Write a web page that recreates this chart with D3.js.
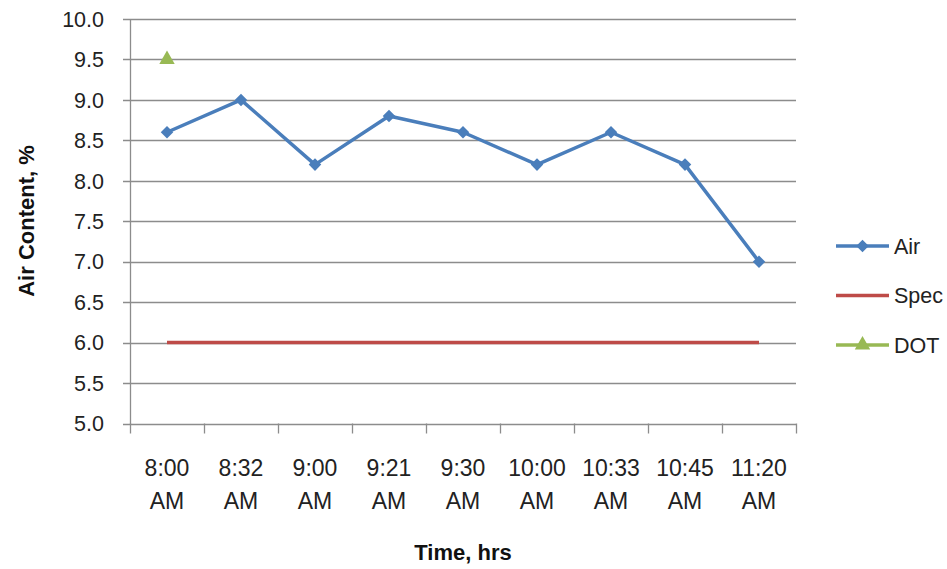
<!DOCTYPE html>
<html>
<head>
<meta charset="utf-8">
<script src="https://cdn.jsdelivr.net/npm/d3@7"></script>
<style>
  html, body { margin: 0; padding: 0; background: #fff; }
  svg { display: block; font-family: "Liberation Sans", Arial, sans-serif; }
</style>
</head>
<body>
<svg id="chart" width="947" height="569"></svg>
<script>
// Sample times (two-line labels)
const times = ["8:00 AM", "8:32 AM", "9:00 AM", "9:21 AM", "9:30 AM", "10:00 AM", "10:33 AM", "10:45 AM", "11:20 AM"];
// Measured air content, %
const airValues = [8.6, 9.0, 8.2, 8.8, 8.6, 8.2, 8.6, 8.2, 7.0];
// Specification minimum, %
const specValues = [6.0, 6.0, 6.0, 6.0, 6.0, 6.0, 6.0, 6.0, 6.0];
// DOT test (first sample only)
const dotValues = [9.5, null, null, null, null, null, null, null, null];
const yTicks = [5.0, 5.5, 6.0, 6.5, 7.0, 7.5, 8.0, 8.5, 9.0, 9.5, 10.0];

const series = [
  { name: "Air", values: airValues, color: "#4A7EBB", marker: "diamond" },
  { name: "Spec", values: specValues, color: "#BE4B48", marker: null },
  { name: "DOT", values: dotValues, color: "#98B954", marker: "triangle" }
];

const svg = d3.select("#chart");
const plot = { left: 130, right: 796, top: 19, bottom: 423.5 };

const x = d3.scaleBand().domain(times).range([plot.left, plot.right]).paddingInner(0).paddingOuter(0);
const y = d3.scaleLinear().domain([5, 10]).range([plot.bottom, plot.top]);

// Horizontal gridlines
svg.append("g")
  .selectAll("line")
  .data(yTicks)
  .join("line")
  .attr("x1", plot.left - 7)
  .attr("x2", plot.right)
  .attr("y1", d => Math.round(y(d)) + 0.5)
  .attr("y2", d => Math.round(y(d)) + 0.5)
  .attr("stroke", "#8C8C8C")
  .attr("stroke-width", 1.3);

// Y axis labels
svg.append("g")
  .selectAll("text")
  .data(yTicks)
  .join("text")
  .attr("x", 104)
  .attr("y", d => y(d))
  .attr("dy", "0.36em")
  .attr("text-anchor", "end")
  .attr("font-size", 21.5)
  .attr("fill", "#222")
  .text(d => d.toFixed(1));

// Vertical axis line
svg.append("line")
  .attr("x1", plot.left + 0.5).attr("x2", plot.left + 0.5)
  .attr("y1", plot.top).attr("y2", plot.bottom + 0.5)
  .attr("stroke", "#8C8C8C").attr("stroke-width", 1.3);

// X axis tick marks at category boundaries
const boundaries = times.map(t => x(t)).concat([plot.right]);
svg.append("g")
  .selectAll("line")
  .data(boundaries)
  .join("line")
  .attr("x1", d => Math.round(d) + 0.5)
  .attr("x2", d => Math.round(d) + 0.5)
  .attr("y1", plot.bottom)
  .attr("y2", plot.bottom + 10)
  .attr("stroke", "#8C8C8C")
  .attr("stroke-width", 1.3);

// X axis labels (time / AM on two lines)
const xl = svg.append("g")
  .selectAll("text")
  .data(times)
  .join("text")
  .attr("text-anchor", "middle")
  .attr("font-size", 23)
  .attr("fill", "#222");
xl.append("tspan")
  .attr("x", d => x(d) + x.bandwidth() / 2)
  .attr("y", 476)
  .text(d => d.split(" ")[0]);
xl.append("tspan")
  .attr("x", d => x(d) + x.bandwidth() / 2)
  .attr("y", 509)
  .text(d => d.split(" ")[1]);

const cx = (i) => x(times[i]) + x.bandwidth() / 2;
const line = d3.line()
  .defined(d => d.v != null)
  .x(d => cx(d.i))
  .y(d => y(d.v));

const diamond = d3.symbol().type(d3.symbolDiamond2).size(100);
const triangle = d3.symbol().type(d3.symbolTriangle2).size(170);

series.forEach(s => {
  const pts = s.values.map((v, i) => ({ v, i }));
  svg.append("path")
    .datum(pts)
    .attr("d", line)
    .attr("fill", "none")
    .attr("stroke", s.color)
    .attr("stroke-width", 3.5)
    .attr("stroke-linejoin", "round");
  if (s.marker) {
    const sym = s.marker === "diamond" ? diamond : triangle;
    svg.append("g")
      .selectAll("path")
      .data(pts.filter(p => p.v != null))
      .join("path")
      .attr("transform", p => `translate(${cx(p.i)},${y(p.v)})`)
      .attr("d", sym)
      .attr("fill", s.color);
  }
});

// Legend
const legend = svg.append("g");
series.forEach((s, k) => {
  const ly = 246 + k * 49.5;
  legend.append("line")
    .attr("x1", 836).attr("x2", 889)
    .attr("y1", ly).attr("y2", ly)
    .attr("stroke", s.color).attr("stroke-width", 3.5);
  if (s.marker) {
    const sym = s.marker === "diamond" ? diamond : triangle;
    legend.append("path")
      .attr("transform", `translate(862.5,${ly})`)
      .attr("d", sym)
      .attr("fill", s.color);
  }
  legend.append("text")
    .attr("x", 894).attr("y", ly)
    .attr("dy", "0.36em")
    .attr("font-size", 21.5)
    .attr("fill", "#222")
    .text(s.name);
});

// Axis titles
svg.append("text")
  .attr("transform", "translate(34,221) rotate(-90)")
  .attr("text-anchor", "middle")
  .attr("font-size", 22)
  .attr("font-weight", "bold")
  .attr("fill", "#111")
  .text("Air Content, %");

svg.append("text")
  .attr("x", 463).attr("y", 560)
  .attr("text-anchor", "middle")
  .attr("font-size", 22)
  .attr("font-weight", "bold")
  .attr("fill", "#111")
  .text("Time, hrs");
</script>
</body>
</html>
